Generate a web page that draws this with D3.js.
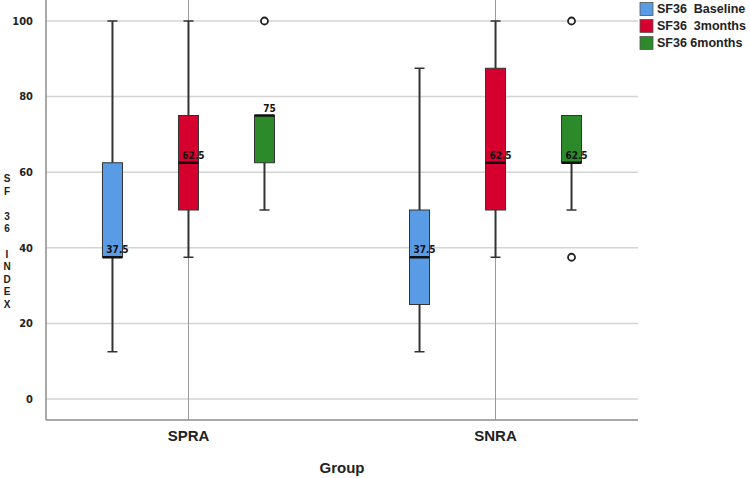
<!DOCTYPE html>
<html>
<head>
<meta charset="utf-8">
<script src="https://cdn.jsdelivr.net/npm/d3@7"></script>
<style>
  body { margin: 0; background: #fff; }
  svg { display: block; }
</style>
</head>
<body>
<div id="chart"></div>
<script>
// groups and series
var groups = ["SPRA", "SNRA"];
var series = ["SF36  Baseline", "SF36  3months", "SF36 6months"];
var colors = ["#5a9be6", "#d6002e", "#2d8a2b"];

// box statistics per group, in series order: [lowWhisker, q1, median, q3, highWhisker]
var spraStats = [
    [12.5, 37.5, 37.5, 62.5, 100],
    [37.5, 50, 62.5, 75, 100],
    [50, 62.5, 75, 75, 75]
];
var snraStats = [
    [12.5, 25, 37.5, 50, 87.5],
    [37.5, 50, 62.5, 87.5, 100],
    [50, 62.5, 62.5, 75, 75]
];
// outliers per group, per series
var spraOutliers = [[], [], [100]];
var snraOutliers = [[], [], [100, 37.5]];

// median labels
var spraLabels = ["37.5", "62.5", "75"];
var snraLabels = ["37.5", "62.5", "62.5"];

var yTicks = [0, 20, 40, 60, 80, 100];

var width = 750, height = 478;
var plot = {left: 46, right: 638, top: 0, bottom: 420};

var svg = d3.select("#chart").append("svg")
    .attr("width", width)
    .attr("height", height);

var y = d3.scaleLinear().domain([0, 100]).range([399, 21]);
var x = d3.scalePoint().domain(groups).range([plot.left, plot.right]).padding(0.464);
var sub = d3.scalePoint().domain(series).range([-76, 76]);

var boxW = 20;
var font = "'Liberation Sans', Arial, sans-serif";
var narrow = "'DejaVu Sans Condensed', 'Liberation Sans', sans-serif";

// gridlines
svg.append("g").selectAll("line")
    .data(yTicks)
    .join("line")
    .attr("x1", plot.left).attr("x2", plot.right)
    .attr("y1", d => y(d)).attr("y2", d => y(d))
    .attr("stroke", "#d4d4d4")
    .attr("stroke-width", 1.5);

// category reference lines
svg.append("g").selectAll("line")
    .data(groups)
    .join("line")
    .attr("x1", d => x(d)).attr("x2", d => x(d))
    .attr("y1", plot.top).attr("y2", plot.bottom)
    .attr("stroke", "#9a9a9a")
    .attr("stroke-width", 1);

// axes frame
svg.append("line")
    .attr("x1", plot.left).attr("x2", plot.left)
    .attr("y1", plot.top).attr("y2", plot.bottom)
    .attr("stroke", "#8c8c8c").attr("stroke-width", 1.5);
svg.append("line")
    .attr("x1", plot.left).attr("x2", plot.right)
    .attr("y1", plot.bottom).attr("y2", plot.bottom)
    .attr("stroke", "#8c8c8c").attr("stroke-width", 1.5);

// y tick labels
svg.append("g").selectAll("text")
    .data(yTicks)
    .join("text")
    .attr("x", 33)
    .attr("y", d => y(d))
    .attr("dy", "0.35em")
    .attr("text-anchor", "end")
    .style("font-family", narrow)
    .style("font-weight", "bold")
    .style("font-size", "11px")
    .style("fill", "#222")
    .text(d => d);

// y axis title, one letter per line
var yTitle = ["S", "F", "", "3", "6", "", "I", "N", "D", "E", "X"];
svg.append("g").selectAll("text")
    .data(yTitle)
    .join("text")
    .attr("x", 7)
    .attr("y", (d, i) => 182 + i * 12.6)
    .attr("text-anchor", "middle")
    .style("font-family", font)
    .style("font-weight", "bold")
    .style("font-size", "10px")
    .style("fill", "#222")
    .text(d => d);

// x tick labels
svg.append("g").selectAll("text")
    .data(groups)
    .join("text")
    .attr("x", d => x(d))
    .attr("y", 441)
    .attr("text-anchor", "middle")
    .style("font-family", font)
    .style("font-weight", "bold")
    .style("font-size", "15px")
    .style("fill", "#222")
    .text(d => d);

svg.append("text")
    .attr("x", 342)
    .attr("y", 473)
    .attr("text-anchor", "middle")
    .style("font-family", font)
    .style("font-weight", "bold")
    .style("font-size", "15px")
    .style("fill", "#222")
    .text("Group");

// boxes
function drawGroup(group, stats, outliers, labels) {
    stats.forEach(function(s, i) {
        var cx = x(group) + sub(series[i]);
        var g = svg.append("g");
        // whiskers
        g.append("line")
            .attr("x1", cx).attr("x2", cx)
            .attr("y1", y(s[0])).attr("y2", y(s[1]))
            .attr("stroke", "#333").attr("stroke-width", 2);
        g.append("line")
            .attr("x1", cx).attr("x2", cx)
            .attr("y1", y(s[3])).attr("y2", y(s[4]))
            .attr("stroke", "#333").attr("stroke-width", 2);
        // caps
        [s[0], s[4]].forEach(function(v) {
            if (v === s[1] || v === s[3]) return;
            g.append("line")
                .attr("x1", cx - 5).attr("x2", cx + 5)
                .attr("y1", y(v)).attr("y2", y(v))
                .attr("stroke", "#333").attr("stroke-width", 1.5);
        });
        // box
        g.append("rect")
            .attr("x", cx - boxW / 2)
            .attr("y", y(s[3]))
            .attr("width", boxW)
            .attr("height", y(s[1]) - y(s[3]))
            .attr("fill", colors[i])
            .attr("stroke", "#333")
            .attr("stroke-width", 1);
        // median
        g.append("line")
            .attr("x1", cx - boxW / 2).attr("x2", cx + boxW / 2)
            .attr("y1", y(s[2])).attr("y2", y(s[2]))
            .attr("stroke", "#111").attr("stroke-width", 2.5);
        // outliers
        g.selectAll("circle")
            .data(outliers[i])
            .join("circle")
            .attr("cx", cx)
            .attr("cy", d => y(d))
            .attr("r", 3.5)
            .attr("fill", "#fff")
            .attr("stroke", "#222")
            .attr("stroke-width", 1.8);
        // median label
        g.append("text")
            .attr("x", cx + 5)
            .attr("y", y(s[2]) - 4)
            .attr("text-anchor", "middle")
            .style("font-family", narrow)
            .style("font-weight", "bold")
            .style("font-size", "10px")
            .style("fill", "#111")
            .text(labels[i]);
    });
}

drawGroup("SPRA", spraStats, spraOutliers, spraLabels);
drawGroup("SNRA", snraStats, snraOutliers, snraLabels);

// legend
var legend = svg.append("g");
series.forEach(function(name, i) {
    var ly = 9 + i * 17;
    legend.append("rect")
        .attr("x", 640).attr("y", ly - 6.5)
        .attr("width", 13).attr("height", 13)
        .attr("fill", colors[i])
        .attr("stroke", "#555").attr("stroke-width", 0.8);
    legend.append("text")
        .attr("x", 657).attr("y", ly)
        .attr("dy", "0.35em")
        .style("font-family", font)
        .style("font-weight", "bold")
        .style("font-size", "12.5px")
        .style("fill", "#222")
        .style("white-space", "pre")
        .attr("xml:space", "preserve")
        .text(name);
});
</script>
</body>
</html>
